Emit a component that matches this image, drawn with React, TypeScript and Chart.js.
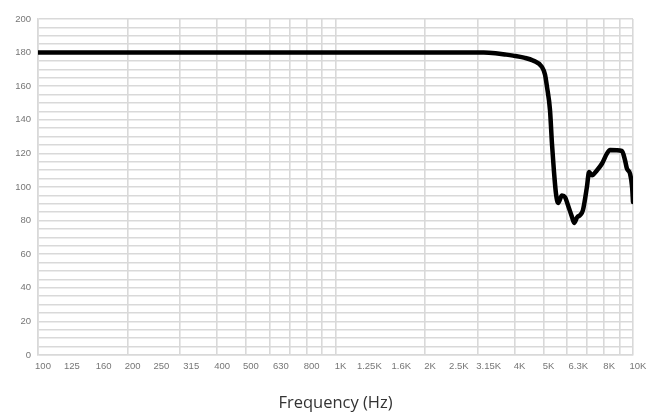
import React, { useEffect, useRef } from "react";
import { Chart, registerables } from "chart.js";

Chart.register(...registerables);

// Frequency response (Hz) and level values
const freqs = [100, 3150, 3450, 3750, 3950, 4300, 4610, 4940, 5060, 5140, 5260, 5340, 5420, 5510, 5600, 5770, 5910, 6050, 6240, 6340, 6490, 6640, 6790, 7000, 7120, 7280, 7570, 7870, 8180, 8370, 9180, 9400, 9540, 9770, 9930, 10000];
const levels = [180, 180, 179.6, 178.8, 178.2, 177, 175.3, 171.5, 167, 159.5, 145.8, 126, 110, 96, 90.5, 95, 94, 89, 82, 78.6, 82, 83.3, 86.3, 100, 109, 107, 110, 114, 120, 122, 121.4, 116, 111, 108, 100, 91];

// Third-octave tick labels on the x axis
const labelFreqs = [100, 125, 160, 200, 250, 315, 400, 500, 630, 800, 1000, 1250, 1600, 2000, 2500, 3150, 4000, 5000, 6300, 8000, 10000];
const labelTexts = ["100", "125", "160", "200", "250", "315", "400", "500", "630", "800", "1K", "1.25K", "1.6K", "2K", "2.5K", "3.15K", "4K", "5K", "6.3K", "8K", "10K"];
// Logarithmic grid lines
const gridFreqs = [100, 200, 300, 400, 500, 600, 700, 800, 900, 1000, 2000, 3000, 4000, 5000, 6000, 7000, 8000, 9000, 10000];

const yMin = 0;
const yMax = 200;
const yLabelStep = 20;
const yGridStep = 5;
const xTitle = "Frequency (Hz)";

export default function App() {
  const ref = useRef<HTMLCanvasElement | null>(null);

  useEffect(() => {
    document.body.style.margin = "0";
    const canvas = ref.current;
    if (!canvas) return;
    const tickValues = Array.from(new Set([...labelFreqs, ...gridFreqs])).sort((a, b) => a - b);
    const gridColor = "#d9d9d9";
    const chart = new Chart(canvas, {
      type: "line",
      data: {
        datasets: [
          {
            data: freqs.map((f, i) => ({ x: f, y: levels[i] })),
            borderColor: "#000000",
            borderWidth: 4.5,
            pointRadius: 0,
            fill: false,
            cubicInterpolationMode: "monotone",
            borderCapStyle: "round",
            borderJoinStyle: "round",
          },
        ],
      },
      options: {
        responsive: false,
        animation: false,
        devicePixelRatio: 1,
        layout: { padding: { top: 19, right: 21, bottom: 0, left: 0 } },
        plugins: { legend: { display: false }, tooltip: { enabled: false } },
        scales: {
          x: {
            type: "logarithmic",
            min: 100,
            max: 10000,
            afterBuildTicks: (scale: any) => {
              scale.ticks = tickValues.map((v) => ({ value: v }));
            },
            afterFit: (scale: any) => {
              scale.height = 61;
            },
            grid: {
              drawTicks: false,
              lineWidth: 1.6,
              color: (ctx: any) =>
                ctx.tick && gridFreqs.includes(ctx.tick.value) ? gridColor : "rgba(0,0,0,0)",
            },
            border: { color: gridColor, width: 1.6 },
            ticks: {
              autoSkip: false,
              maxRotation: 0,
              minRotation: 0,
              padding: 6,
              labelOffset: 5,
              color: "#767676",
              font: { family: "'Liberation Sans', Arial, sans-serif", size: 9.5 },
              callback: (v: any) => {
                const idx = labelFreqs.indexOf(Number(v));
                return idx >= 0 ? labelTexts[idx] : "";
              },
            },
            title: {
              display: true,
              text: xTitle,
              color: "#333333",
              font: { family: "'Open Sans', sans-serif", size: 16.5 },
              padding: { top: 0, bottom: 3 },
            },
          },
          y: {
            min: yMin,
            max: yMax,
            afterFit: (scale: any) => {
              scale.width = 38;
            },
            grid: { drawTicks: false, lineWidth: 1.6, color: gridColor },
            border: { color: gridColor, width: 1.6 },
            ticks: {
              stepSize: yGridStep,
              autoSkip: false,
              padding: 7,
              color: "#767676",
              font: { family: "'Liberation Sans', Arial, sans-serif", size: 9.5 },
              callback: (v: any) => (Number(v) % yLabelStep === 0 ? String(v) : ""),
            },
          },
        },
      },
    });
    return () => chart.destroy();
  }, []);

  return (
    <div style={{ width: 654, height: 416, background: "#ffffff" }}>
      <canvas ref={ref} width={654} height={416} style={{ display: "block" }} />
    </div>
  );
}
